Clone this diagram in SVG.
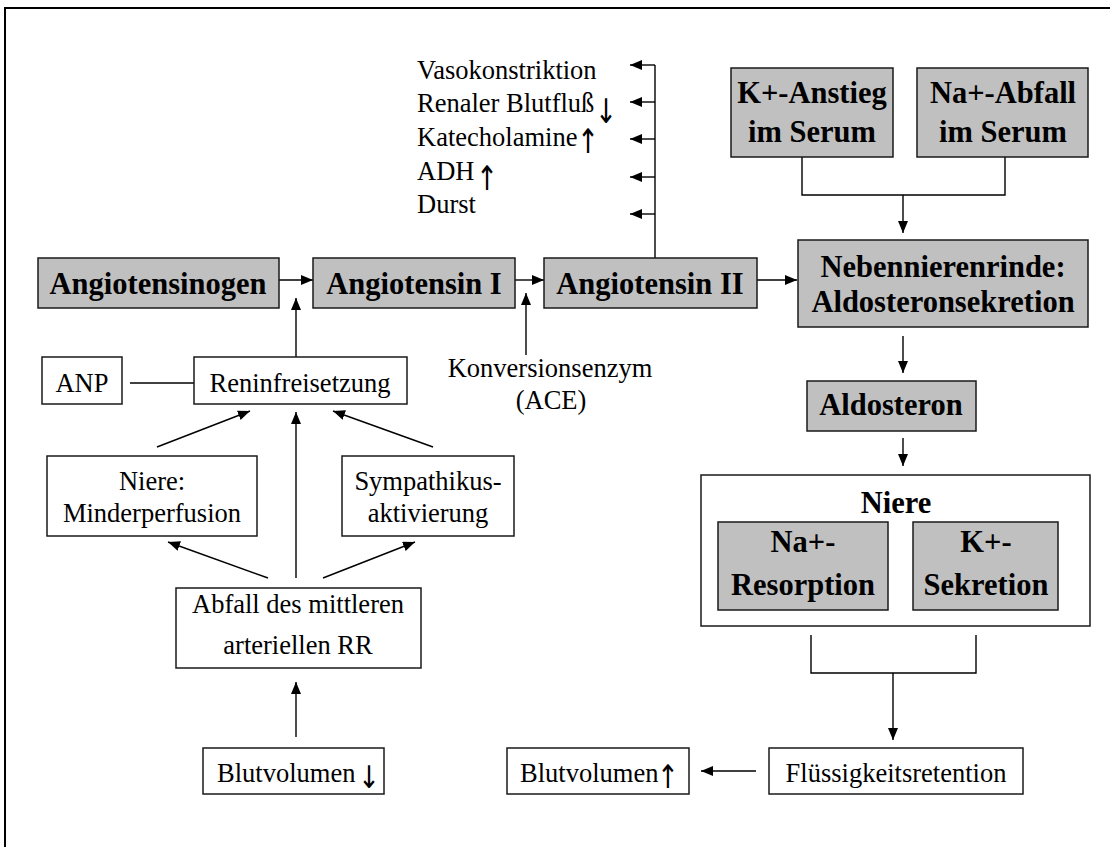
<svg xmlns="http://www.w3.org/2000/svg" width="1110" height="847" viewBox="0 0 1110 847">
<defs>
<style>
.box{fill:#ffffff;stroke:#1a1a1a;stroke-width:1.5}
.gbox{fill:#c0c0c0;stroke:#1a1a1a;stroke-width:1.5}
.t{font-family:"Liberation Serif","Times New Roman",serif;font-size:26.5px;fill:#000}
.b{font-family:"Liberation Serif","Times New Roman",serif;font-size:30.5px;font-weight:bold;fill:#000}
.c{text-anchor:middle}
.arr{font-family:"DejaVu Sans",sans-serif;font-size:26px;fill:#000;text-anchor:middle}
.ln{fill:none;stroke:#000;stroke-width:1.4}
.ar{fill:none;stroke:#000;stroke-width:1.4;marker-end:url(#ah)}
</style>
<marker id="ah" markerWidth="12" markerHeight="10" refX="12" refY="5" orient="auto" markerUnits="userSpaceOnUse">
<path d="M0,0 L12,5 L0,10 z" fill="#000"/>
</marker>
</defs>
<rect width="1110" height="847" fill="#ffffff"/>
<path d="M5,847 V8 H1110" fill="none" stroke="#000" stroke-width="2"/>

<g id="connectors">
<path class="ar" d="M279,280 H313"/>
<path class="ar" d="M296,357 V298"/>
<path class="ar" d="M515,280 H544"/>
<path class="ar" d="M526,355 V293"/>
<path class="ar" d="M757,280 H797"/>
<path class="ln" d="M655,258 V65"/>
<path class="ar" d="M655,65 H630"/>
<path class="ar" d="M655,102 H630"/>
<path class="ar" d="M655,139 H630"/>
<path class="ar" d="M655,177 H630"/>
<path class="ar" d="M655,214 H630"/>
<path class="ln" d="M802,157 V195 H1005 V157"/>
<path class="ar" d="M903,195 V233"/>
<path class="ar" d="M903,336 V373"/>
<path class="ar" d="M903,438 V466"/>
<path class="ln" d="M811,635 V673 H976 V635"/>
<path class="ar" d="M893,673 V740"/>
<path class="ar" d="M756,771 H701"/>
<path class="ln" d="M130,383 H194"/>
<path class="ar" d="M157,447 L250,411"/>
<path class="ar" d="M433,447 L333,411"/>
<path class="ar" d="M296,578 V412"/>
<path class="ar" d="M268,578 L168,542"/>
<path class="ar" d="M323,578 L415,542"/>
<path class="ar" d="M296,737 V682"/>
</g>

<g id="effects">
<text class="t" x="417" y="79">Vasokonstriktion</text>
<text class="t" x="417" y="112">Renaler Blutfluß</text>
<text class="arr" transform="translate(606,123) scale(1,1.3)">↓</text>
<text class="t" x="417" y="146">Katecholamine</text>
<text class="arr" transform="translate(588,153) scale(1,1.3)">↑</text>
<text class="t" x="417" y="180">ADH</text>
<text class="arr" transform="translate(487,190) scale(1,1.3)">↑</text>
<text class="t" x="417" y="213">Durst</text>
</g>

<g id="angiotensinogen">
<rect class="gbox" x="38" y="258" width="241" height="50"/>
<text class="b c" x="158" y="294">Angiotensinogen</text>
</g>
<g id="angiotensin1">
<rect class="gbox" x="313" y="258" width="202" height="50"/>
<text class="b c" x="414" y="294">Angiotensin I</text>
</g>
<g id="angiotensin2">
<rect class="gbox" x="544" y="258" width="213" height="50"/>
<text class="b c" x="650" y="294">Angiotensin II</text>
</g>
<g id="ace">
<text class="t c" x="550" y="377">Konversionsenzym</text>
<text class="t c" x="551" y="409">(ACE)</text>
</g>
<g id="anp">
<rect class="box" x="42" y="357" width="80" height="47"/>
<text class="t c" x="82" y="392">ANP</text>
</g>
<g id="renin">
<rect class="box" x="194" y="357" width="213" height="47"/>
<text class="t c" x="300" y="392">Reninfreisetzung</text>
</g>
<g id="minderperfusion">
<rect class="box" x="47" y="456" width="210" height="80"/>
<text class="t c" x="152" y="490">Niere:</text>
<text class="t c" x="152" y="522">Minderperfusion</text>
</g>
<g id="sympathikus">
<rect class="box" x="342" y="456" width="172" height="80"/>
<text class="t c" x="428" y="490">Sympathikus-</text>
<text class="t c" x="428" y="522">aktivierung</text>
</g>
<g id="abfall">
<rect class="box" x="176" y="588" width="245" height="80"/>
<text class="t c" x="298" y="613">Abfall des mittleren</text>
<text class="t c" x="298" y="654">arteriellen RR</text>
</g>
<g id="blutvolumen-down">
<rect class="box" x="203" y="748" width="181" height="46"/>
<text class="t" x="217" y="782">Blutvolumen</text>
<text class="arr" transform="translate(369,788) scale(1,1.2)">↓</text>
</g>

<g id="k-anstieg">
<rect class="gbox" x="731" y="68" width="162" height="89"/>
<text class="b c" x="812" y="103">K+-Anstieg</text>
<text class="b c" x="812" y="142">im Serum</text>
</g>
<g id="na-abfall">
<rect class="gbox" x="917" y="68" width="171" height="89"/>
<text class="b c" x="1003" y="103">Na+-Abfall</text>
<text class="b c" x="1003" y="142">im Serum</text>
</g>
<g id="nebennierenrinde">
<rect class="gbox" x="798" y="240" width="290" height="87"/>
<text class="b c" x="943" y="277">Nebennierenrinde:</text>
<text class="b c" x="943" y="312">Aldosteronsekretion</text>
</g>
<g id="aldosteron">
<rect class="gbox" x="807" y="381" width="169" height="50"/>
<text class="b c" x="891" y="415">Aldosteron</text>
</g>
<g id="niere">
<rect class="box" x="701" y="475" width="389" height="151"/>
<text class="b c" x="896" y="513">Niere</text>
</g>
<g id="na-resorption">
<rect class="gbox" x="718" y="522" width="170" height="88"/>
<text class="b c" x="803" y="552">Na+-</text>
<text class="b c" x="803" y="595">Resorption</text>
</g>
<g id="k-sekretion">
<rect class="gbox" x="913" y="522" width="145" height="88"/>
<text class="b c" x="986" y="552">K+-</text>
<text class="b c" x="986" y="595">Sekretion</text>
</g>
<g id="fluessigkeitsretention">
<rect class="box" x="769" y="748" width="254" height="46"/>
<text class="t c" x="896" y="782">Flüssigkeitsretention</text>
</g>
<g id="blutvolumen-up">
<rect class="box" x="507" y="748" width="182" height="46"/>
<text class="t" x="520" y="782">Blutvolumen</text>
<text class="arr" transform="translate(668,788) scale(1,1.25)">↑</text>
</g>
</svg>
